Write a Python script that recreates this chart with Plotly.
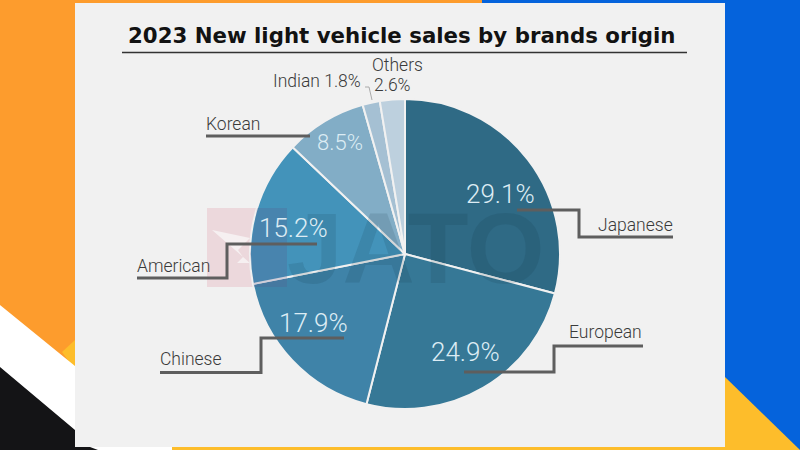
import plotly.graph_objects as go

origins = ['Japanese', 'European', 'Chinese', 'American', 'Korean', 'Indian', 'Others']
shares = [29.1, 24.9, 17.9, 15.2, 8.5, 1.8, 2.6]
colors = ['#2f6a85', '#367896', '#3f83a8', '#4393ba', '#82adc6', '#a5c0d3', '#bdd0de']
title = '2023 New light vehicle sales by brands origin'

W, H = 800, 450


# everything on the page is placed in pixels from the top left of the picture
def px(x):
    return x / W


def py(y):
    return 1 - y / H


def poly(points, fill, layer='below', line=None, width=0):
    path = 'M ' + ' L '.join(f'{px(x)} {py(y)}' for x, y in points)
    if fill:
        path += ' Z'
    return dict(type='path', xref='paper', yref='paper', path=path, layer=layer,
                fillcolor=fill if fill else 'rgba(0,0,0,0)',
                line=dict(color=line if line else 'rgba(0,0,0,0)', width=width))


def leader(points, width=3, color='#5e5e5e'):
    return poly(points, None, layer='above', line=color, width=width)


def label(text, x, y, size=17.5, color='#3a3a3a', anchor='left', weight=300, family='Roboto'):
    # annotations carry about 2px of padding on the left
    x = x - 2 if anchor == 'left' else x
    return dict(text=text, x=px(x), y=py(y), xref='paper', yref='paper', showarrow=False,
                xanchor=anchor, yanchor='middle', align='left',
                font=dict(family=family, size=size, color=color, weight=weight))


shapes = [
    # page background
    poly([(0, 0), (482, 0), (482, 10), (75, 450), (0, 450)], '#fd9c2d'),
    poly([(482, 0), (800, 0), (800, 450), (482, 450)], '#0563dc'),
    poly([(725, 377), (800, 450), (725, 450)], '#fdbd2b'),
    poly([(62, 352), (75, 340), (75, 370)], '#fdbd2b'),
    poly([(0, 305), (75, 366), (75, 450), (172, 450), (172, 447), (0, 447)], '#ffffff'),
    poly([(0, 367), (75, 430), (75, 447), (90, 447), (98, 450), (0, 450)], '#141416'),
    poly([(172, 447), (725, 447), (725, 450), (172, 450)], '#fdbd2b'),
    # panel
    poly([(75, 3), (725, 3), (725, 447), (75, 447)], '#f1f1f1'),
    # title rule
    leader([(122, 52.5), (687, 52.5)], width=1.5, color='#333333'),
    # logo watermark
    poly([(207, 208), (287, 208), (287, 287), (207, 287)], '#ecd8dc'),
    poly([(212, 230), (250, 238), (238, 250), (243, 257), (237, 263), (250, 263)], '#f6f0f1'),
    poly([(257, 208), (287, 208), (287, 287), (254, 287), (250, 254)], 'rgba(90,80,130,0.22)', layer='above'),
    # leaders
    leader([(517, 210), (579, 210), (579, 237), (673, 237)]),
    leader([(464, 372), (554, 372), (554, 346), (643, 346)]),
    leader([(160, 372.5), (261, 372.5), (261, 338), (344, 338)]),
    leader([(137, 278), (227, 278), (227, 244), (317, 244)]),
    leader([(206, 136), (310, 136)]),
    leader([(365, 87), (369, 87), (372, 100)], width=1, color='#aaaaaa'),
]

pct = [f'{s}%' for s in shares]
white = '#dcecf4'
annotations = [
    label('JATO', 415, 248, size=100, color='rgba(15,45,65,0.13)', anchor='center', weight=700, family='Liberation Sans'),
    label(title, 402, 36, size=21.3, color='#121212', anchor='center', weight=700, family='DejaVu Sans'),
    label(pct[0], 466, 194, size=26, color=white),
    label(pct[1], 431, 352, size=26, color=white),
    label(pct[2], 279, 323, size=26, color=white),
    label(pct[3], 259, 228, size=26, color=white),
    label(pct[4], 317, 143, size=22, color=white),
    label(origins[0], 598, 225),
    label(origins[1], 569, 332),
    label(origins[2], 160, 359),
    label(origins[3], 137, 266),
    label(origins[4], 206, 124),
    label(f'{origins[5]} {pct[5]}', 273, 81),
    label(origins[6], 372, 65),
    label(pct[6], 374, 85),
]

fig = go.Figure(go.Pie(
    labels=origins, values=shares, sort=False, direction='clockwise', rotation=0,
    marker=dict(colors=colors, line=dict(color='#f1f1f1', width=2)),
    textinfo='none', hoverinfo='label+percent', showlegend=False,
    domain=dict(x=[px(250), px(560)], y=[py(410), py(98)]),
))
fig.update_layout(
    width=W, height=H, margin=dict(l=0, r=0, t=0, b=0),
    paper_bgcolor='#f1f1f1', shapes=shapes, annotations=annotations,
)
# the page's default body margin would push the figure 8px off
fig.write_html('out.html', config=dict(displayModeBar=False),
               post_script="document.body.style.margin='0';")
